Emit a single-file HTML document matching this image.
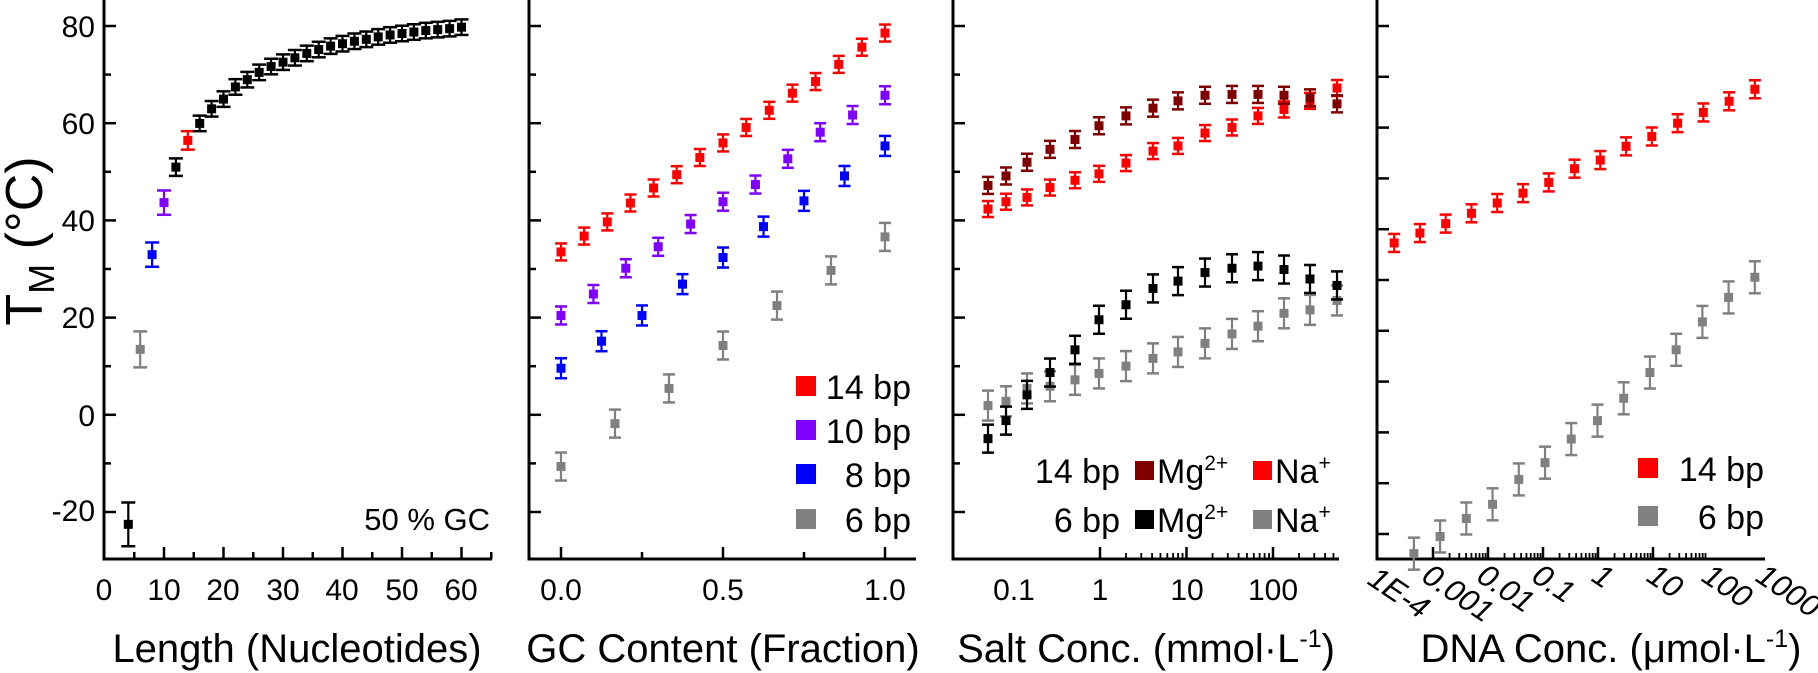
<!DOCTYPE html>
<html><head><meta charset="utf-8"><style>
html,body{margin:0;padding:0;background:#fff;}
svg{display:block;}
text{font-family:"Liberation Sans",Arial,sans-serif;fill:#000;}
</style></head><body>
<svg id="s" width="1818" height="673" viewBox="0 0 1818 673" xmlns="http://www.w3.org/2000/svg">
<g id="axes" stroke="#000" stroke-width="3" fill="none"></g>
<g id="data"></g>
<g font-size="30">
<text x="95" y="37" text-anchor="end">80</text>
<text x="95" y="134" text-anchor="end">60</text>
<text x="95" y="231" text-anchor="end">40</text>
<text x="95" y="328" text-anchor="end">20</text>
<text x="95" y="426" text-anchor="end">0</text>
<text x="95" y="521" text-anchor="end">-20</text>
<g text-anchor="middle">
<text x="104" y="600">0</text><text x="164" y="600">10</text><text x="223" y="600">20</text><text x="283" y="600">30</text><text x="342" y="600">40</text><text x="402" y="600">50</text><text x="461" y="600">60</text>
<text x="561" y="600">0.0</text><text x="723" y="600">0.5</text><text x="885" y="600">1.0</text>
<text x="1014" y="600">0.1</text><text x="1100" y="600">1</text><text x="1187" y="600">10</text><text x="1273" y="600">100</text>
</g>
<g font-style="italic" font-size="31">
<text transform="translate(1366,583) rotate(34)">1E-4</text>
<text transform="translate(1420,580) rotate(34)">0.001</text>
<text transform="translate(1475,580) rotate(34)">0.01</text>
<text transform="translate(1530,580) rotate(34)">0.1</text>
<text transform="translate(1590,580) rotate(34)">1</text>
<text transform="translate(1645,580) rotate(34)">10</text>
<text transform="translate(1700,580) rotate(34)">100</text>
<text transform="translate(1754,580) rotate(34)">1000</text>
</g>
</g>
<g font-size="40" text-anchor="middle">
<text x="297" y="662">Length (Nucleotides)</text>
<text x="723" y="662">GC Content (Fraction)</text>
<text x="1146" y="662">Salt Conc. (mmol·L<tspan dy="-15" font-size="25">-1</tspan><tspan dy="15">)</tspan></text>
<text x="1611" y="662">DNA Conc. (μmol·L<tspan dy="-15" font-size="25">-1</tspan><tspan dy="15">)</tspan></text>
</g>
<text transform="translate(42,241) rotate(-90)" font-size="52" text-anchor="middle">T<tspan font-size="36" dy="12">M</tspan><tspan dy="-12"> (°C)</tspan></text>
<text x="490" y="530" font-size="31" text-anchor="end">50 % GC</text>
<g font-size="34">
<rect x="796" y="376" width="20" height="20" fill="#ff0000"/><text x="911" y="399" text-anchor="end">14 bp</text>
<rect x="796" y="420" width="20" height="20" fill="#8000ff"/><text x="911" y="443" text-anchor="end">10 bp</text>
<rect x="796" y="464" width="20" height="20" fill="#0000ff"/><text x="911" y="487" text-anchor="end">8 bp</text>
<rect x="796" y="509" width="20" height="20" fill="#808080"/><text x="911" y="532" text-anchor="end">6 bp</text>

<text x="1120" y="483" text-anchor="end">14 bp</text>
<rect x="1135" y="461" width="19" height="19" fill="#800000"/><text x="1157" y="483">Mg<tspan dy="-13" font-size="21">2+</tspan></text>
<rect x="1253" y="461" width="19" height="19" fill="#ff0000"/><text x="1275" y="483">Na<tspan dy="-13" font-size="21">+</tspan></text>
<text x="1120" y="532" text-anchor="end">6 bp</text>
<rect x="1135" y="510" width="19" height="19" fill="#000"/><text x="1157" y="532">Mg<tspan dy="-13" font-size="21">2+</tspan></text>
<rect x="1253" y="510" width="19" height="19" fill="#808080"/><text x="1275" y="532">Na<tspan dy="-13" font-size="21">+</tspan></text>

<rect x="1638" y="458" width="20" height="20" fill="#ff0000"/><text x="1764" y="481" text-anchor="end">14 bp</text>
<rect x="1638" y="506" width="20" height="20" fill="#808080"/><text x="1764" y="529" text-anchor="end">6 bp</text>
</g>
</svg>
<script>
(function(){
var NS="http://www.w3.org/2000/svg";
var ax=document.getElementById('axes'), dg=document.getElementById('data');
function line(g,x1,y1,x2,y2,c,w){var l=document.createElementNS(NS,'line');l.setAttribute('x1',x1);l.setAttribute('y1',y1);l.setAttribute('x2',x2);l.setAttribute('y2',y2);if(c)l.setAttribute('stroke',c);if(w)l.setAttribute('stroke-width',w);g.appendChild(l);}
function pt(x,y,e,c,cap){cap=cap||6;line(dg,x,y-e,x,y+e,c,2.2);line(dg,x-cap,y-e,x+cap,y-e,c,2.5);line(dg,x-cap,y+e,x+cap,y+e,c,2.5);
var r=document.createElementNS(NS,'rect');r.setAttribute('x',x-4.5);r.setAttribute('y',y-4.5);r.setAttribute('width',9);r.setAttribute('height',9);r.setAttribute('fill',c);dg.appendChild(r);}
var yb=559;
var ax0=[104,529,953,1377], axE=[492,916,1339,1765];
for(var p=0;p<4;p++){
 line(ax,ax0[p],0,ax0[p],yb+1.5);line(ax,ax0[p]-1.5,yb,axE[p],yb);
 if(p<3){for(var k=0;k<=10;k++){var y=26+k*48.6;line(ax,ax0[p],y,ax0[p]+(k%2==0?12:7),y,null,2.5);}}
 else{for(var k=0;k<=10;k++){var y=26+k*50.8;line(ax,ax0[p],y,ax0[p]+12,y,null,2.5);}}
}
for(var L=5;L<=65;L+=5){var x=104.5+5.95*L;if(x>492)break;line(ax,x,yb,x,yb-(L%10==0?12:7),null,2.5);}
for(var i=0;i<=4;i++){var x=561+i*81;line(ax,x,yb,x,yb-(i%2==0?12:7),null,2.5);}
function logt(x0,dec,lo,hi,end){for(var d=lo;d<=hi;d++){for(var m=1;m<10;m++){var x=x0+dec*(d+Math.log10(m));if(x<x0-1||x>end)continue;line(ax,x,yb,x,yb-(m==1?12:6),null,m==1?2.5:1.8);}}}
logt(1100,86.5,-2,3,1339);
logt(1433,55,-1,4,1765);
function Y(v){return 415-4.86*v;}
var L1=[[4,-22.5,4.5,'#000'],[6,13.5,3.7,'#808080'],[8,33,2.5,'#0000ff'],[10,43.7,2.5,'#8000ff'],[12,51,1.8,'#000'],[14,56.5,1.9,'#ff0000']];
var vals=[60,63,65,67.5,69,70.5,71.7,72.6,73.5,74.4,75.2,75.9,76.4,76.9,77.3,77.8,78.2,78.5,78.8,79.1,79.3,79.5,79.8];
for(var i=0;i<vals.length;i++)L1.push([16+2*i,vals[i],1.6,'#000']);
L1.forEach(function(a){pt(104.5+5.95*a[0],Y(a[1]),a[2]*4.86,a[3],7);});
function P2(arr,n,c,e){for(var i=0;i<arr.length;i++)pt(561+324*i/n,arr[i]*0.4292,e,c);}
P2([587,550,517,473,438,407,367,333,297,257,217,190,150,110,77],14,'#ff0000',8.5);
P2([735,685,625,575,522,470,430,370,308,268,222],10,'#8000ff',9);
P2([858,795,735,662,600,528,468,410,340],8,'#0000ff',10);
P2([1087,987,905,805,712,630,552],6,'#808080',14);
var X3=[988,1006,1027,1050,1075,1099,1126,1153,1178,1205,1232,1258,1284,1310,1337];
function P3(arr,c,e){for(var i=0;i<arr.length;i++)pt(X3[i],arr[i]*0.4292,e,c);}
P3([487,470,460,437,420,405,380,352,340,310,297,270,255,235,205],'#ff0000',8);
P3([945,935,905,900,885,870,853,835,820,800,778,760,730,722,700],'#808080',15);
P3([432,410,378,348,325,293,270,252,235,222,220,220,222,228,242],'#800000',8.5);
P3([1022,980,920,868,815,745,710,672,655,635,625,620,628,650,665],'#000',14);
var R=[566,543,521,497,473,450,425,393,373,341,318,287,262,236,208];
for(var i=0;i<R.length;i++)pt(1160+(558+i*61.4)/2.383,R[i]*0.4292,9,'#ff0000');
var G=[1290,1250,1208,1175,1117,1078,1023,980,928,868,815,750,693,646];
for(var i=0;i<G.length;i++)pt(1160+(605+i*62.5)/2.383,G[i]*0.4292,16,'#808080');
})();
</script>
</body></html>
